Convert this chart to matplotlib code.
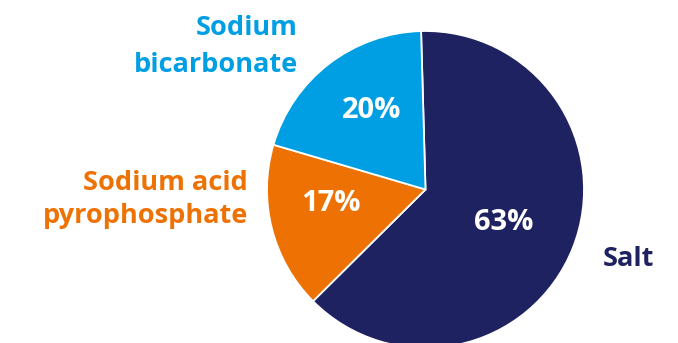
import matplotlib
matplotlib.use("Agg")
import matplotlib.pyplot as plt

# Composition of the leavening blend
labels = ["Salt", "Sodium acid\npyrophosphate", "Sodium\nbicarbonate"]
shares = [63, 17, 20]
colors = ["#1F2260", "#EE7203", "#009FE3"]

W, H = 678, 343
fig = plt.figure(figsize=(W / 100, H / 100), dpi=100)

# Pie placement (pixels): centre and radius
cx, cy, r = 425.5, 189.5, 158.5
ax = fig.add_axes([(cx - r) / W, (H - cy - r) / H, 2 * r / W, 2 * r / H])
ax.pie(shares, colors=colors, startangle=91.6, counterclock=False,
       wedgeprops=dict(edgecolor="white", linewidth=1.3))
ax.set_xlim(-1, 1)
ax.set_ylim(-1, 1)
ax.set_aspect("equal")

font = "Open Sans"

def px(x, y):
    return x / W, 1 - y / H

# Percentage labels inside wedges
pct_pos = [(503.3, 230.0), (331.3, 210.7), (372.0, 118.3)]
for v, (x, y) in zip(shares, pct_pos):
    fig.text(*px(x, y), f"{v}%", color="white", fontsize=21, fontweight="bold",
             family=font, ha="center", va="baseline")

# Category labels outside the pie
fs = 19.5
fig.text(*px(603, 265.7), labels[0], color=colors[0], fontsize=fs,
         fontweight="bold", family=font, ha="left", va="baseline")
fig.text(*px(248, 190), "Sodium acid", color=colors[1], fontsize=fs,
         fontweight="bold", family=font, ha="right", va="baseline")
fig.text(*px(248, 223), "pyrophosphate", color=colors[1], fontsize=fs,
         fontweight="bold", family=font, ha="right", va="baseline")
fig.text(*px(298, 35), "Sodium", color=colors[2], fontsize=fs,
         fontweight="bold", family=font, ha="right", va="baseline")
fig.text(*px(298, 71.7), "bicarbonate", color=colors[2], fontsize=fs,
         fontweight="bold", family=font, ha="right", va="baseline")

fig.savefig("out.png", dpi=100)
